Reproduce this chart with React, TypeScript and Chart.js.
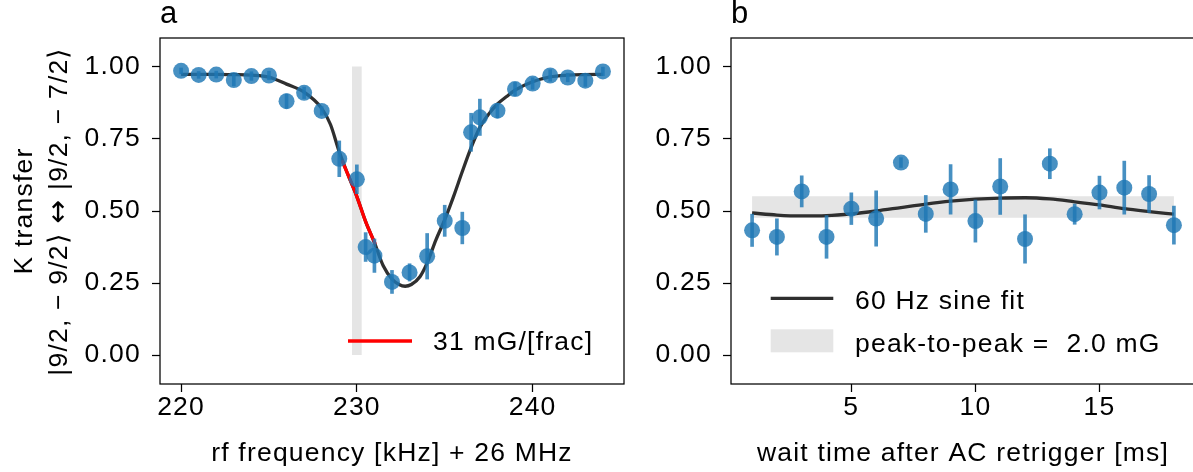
import React, { useEffect, useRef } from "react";
import { Chart, registerables } from "chart.js";

Chart.register(...registerables);

const FONT = "'Liberation Sans', Arial, Helvetica, sans-serif";
const ARROW_FONT = "'DejaVu Sans', sans-serif";
const FONT_SIZE = 26.5;
const LETTER_SPACING = "1.2px";
const BLUE = "rgba(31,119,180,0.82)";
const FIT_COLOR = "#2f2f2f";
const GRAY = "#e5e5e5";

// ---------- panel a: rf frequency scan ----------
const freqKHz = [220, 221, 222, 223, 224, 225, 226, 227, 228, 229, 230, 230.5, 231, 232, 233, 234, 235, 236, 236.5, 237, 238, 239, 240, 241, 242, 243, 244];
const freqTransfer = [0.986, 0.972, 0.973, 0.954, 0.968, 0.97, 0.881, 0.91, 0.847, 0.681, 0.61, 0.375, 0.345, 0.254, 0.287, 0.343, 0.466, 0.441, 0.773, 0.825, 0.848, 0.923, 0.942, 0.97, 0.963, 0.952, 0.984];
const freqErr = [0.01, 0.012, 0.012, 0.02, 0.015, 0.015, 0.025, 0.02, 0.015, 0.062, 0.05, 0.05, 0.058, 0.04, 0.03, 0.079, 0.054, 0.055, 0.066, 0.063, 0.025, 0.023, 0.02, 0.02, 0.015, 0.02, 0.015];

const fitKHz = [220, 221, 222, 223, 224, 225, 226, 227, 228, 228.5, 229, 229.5, 230, 230.5, 231, 231.5, 232, 232.4, 232.75, 233.1, 233.6, 234, 234.5, 235, 235.5, 236, 236.5, 237, 237.5, 238, 238.5, 239, 240, 241, 242, 243, 244];
const fitTransfer = [0.974, 0.974, 0.974, 0.973, 0.971, 0.964, 0.94, 0.912, 0.856, 0.8, 0.705, 0.625, 0.55, 0.463, 0.39, 0.31, 0.264, 0.245, 0.239, 0.245, 0.273, 0.32, 0.4, 0.47, 0.55, 0.637, 0.72, 0.79, 0.836, 0.871, 0.896, 0.919, 0.948, 0.965, 0.971, 0.973, 0.974];

const slopeKHz = [229.15, 229.5, 230, 230.5, 231.05];
const slopeTransfer = [0.676, 0.625, 0.55, 0.463, 0.385];

const markerKHz = [230];
const markerSpan = [0, 1];

const freqTicks = [220, 230, 240];
const transferTicks = [0, 0.25, 0.5, 0.75, 1.0];

const legendA = "31 mG/[frac]";
const xTitleA = "rf frequency [kHz] + 26 MHz";
const yTitleLine1 = "K transfer";
const yTitleLine2 = ["|9/2, \u2212 9/2\u27E9 ", "\u2194", " |9/2, \u2212 7/2\u27E9"];

// ---------- panel b: AC retrigger scan ----------
const waitMs = [1, 2, 3, 4, 5, 6, 7, 8, 9, 10, 11, 12, 13, 14, 15, 16, 17, 18];
const waitTransfer = [0.433, 0.41, 0.568, 0.41, 0.508, 0.474, 0.668, 0.49, 0.575, 0.465, 0.585, 0.403, 0.664, 0.489, 0.564, 0.581, 0.559, 0.451];
const waitErr = [0.056, 0.063, 0.054, 0.074, 0.055, 0.096, 0.017, 0.064, 0.086, 0.073, 0.097, 0.084, 0.052, 0.035, 0.057, 0.092, 0.064, 0.066];

const sineMs = [1, 2, 3, 4, 5, 6, 7, 8, 9, 10, 11, 12, 13, 14, 15, 16, 17, 18];
const sineTransfer = [0.493, 0.486, 0.483, 0.484, 0.49, 0.5, 0.512, 0.524, 0.534, 0.541, 0.545, 0.546, 0.542, 0.532, 0.521, 0.508, 0.498, 0.489];

const bandMs = [1, 18];
const bandLow = [0.477, 0.477];
const bandHigh = [0.551, 0.551];

const waitTicks = [5, 10, 15];
const legendB = ["60 Hz sine fit", "peak-to-peak =  2.0 mG"];
const xTitleB = "wait time after AC retrigger [ms]";

// ---------- helpers ----------
const tickGrid = {
  display: true,
  drawOnChartArea: false,
  drawTicks: true,
  tickLength: 8,
  tickWidth: 1.25,
  tickColor: "#000",
  offset: false,
};

function xScale(min: number, max: number, ticks: number[], title: string) {
  return {
    type: "linear",
    min,
    max,
    offset: false,
    afterBuildTicks: (s: any) => {
      s.ticks = ticks.map((v) => ({ value: v }));
    },
    afterFit: (s: any) => {
      s.height = 88;
    },
    grid: tickGrid,
    border: { display: false },
    ticks: {
      padding: 0,
      autoSkip: false,
      maxRotation: 0,
      minRotation: 0,
      color: "#000",
      font: { size: FONT_SIZE, family: FONT },
      callback: (v: any) => String(v),
    },
    title: {
      display: true,
      text: title,
      color: "#000",
      font: { size: FONT_SIZE, family: FONT },
      padding: { top: 0, bottom: 2 },
    },
  };
}

function yScale(width: number) {
  return {
    type: "linear",
    min: -0.1,
    max: 1.1,
    afterBuildTicks: (s: any) => {
      s.ticks = transferTicks.map((v) => ({ value: v }));
    },
    afterFit: (s: any) => {
      s.width = width;
    },
    grid: tickGrid,
    border: { display: false },
    ticks: {
      padding: 11,
      autoSkip: false,
      color: "#000",
      font: { size: FONT_SIZE, family: FONT },
      callback: (v: any) => Number(v).toFixed(2),
    },
  };
}

function decorPlugin(title: string, drawExtra: (ctx: CanvasRenderingContext2D, a: any) => void) {
  return {
    id: "decor",
    beforeDraw(chart: any) {
      chart.ctx.letterSpacing = LETTER_SPACING;
    },
    afterDatasetsDraw(chart: any) {
      const { ctx, chartArea: a } = chart;
      ctx.save();
      ctx.strokeStyle = "#000";
      ctx.lineWidth = 1.25;
      ctx.strokeRect(a.left, a.top, a.right - a.left, a.bottom - a.top);
      ctx.restore();
    },
    afterDraw(chart: any) {
      const { ctx, chartArea: a } = chart;
      ctx.save();
      ctx.fillStyle = "#000";
      ctx.textAlign = "left";
      ctx.textBaseline = "alphabetic";
      ctx.font = `31px ${FONT}`;
      ctx.fillText(title, a.left, 22.5);
      ctx.restore();
      ctx.save();
      drawExtra(ctx, a);
      ctx.restore();
    },
  };
}

function pointsOf(xs: number[], ys: number[]) {
  return xs.map((x, i) => ({ x, y: ys[i] }));
}

function errorsOf(xs: number[], ys: number[], es: number[]) {
  return xs.map((x, i) => ({ x, y: [ys[i] - es[i], ys[i] + es[i]] }));
}

function baseOptions(padRight: number, yWidth: number, xMin: number, xMax: number, xTicks: number[], xTitle: string) {
  return {
    responsive: false,
    maintainAspectRatio: false,
    animation: false,
    devicePixelRatio: 1,
    events: [],
    layout: { padding: { left: 0, top: 38, right: padRight, bottom: 0 } },
    plugins: {
      legend: { display: false },
      tooltip: { enabled: false },
      title: { display: false },
    },
    scales: {
      x: xScale(xMin, xMax, xTicks, xTitle),
      y: yScale(yWidth),
    },
  };
}

function configA(): any {
  return {
    type: "scatter",
    data: {
      datasets: [
        {
          type: "scatter",
          data: pointsOf(freqKHz, freqTransfer),
          backgroundColor: BLUE,
          borderWidth: 0,
          pointRadius: 8,
          pointHoverRadius: 8,
          order: 0,
        },
        {
          type: "bar",
          data: errorsOf(freqKHz, freqTransfer, freqErr),
          backgroundColor: BLUE,
          borderWidth: 0,
          barThickness: 3,
          grouped: false,
          order: 1,
        },
        {
          type: "line",
          data: pointsOf(slopeKHz, slopeTransfer),
          borderColor: "#ff0000",
          borderWidth: 3.3,
          pointRadius: 0,
          fill: false,
          cubicInterpolationMode: "monotone",
          order: 2,
        },
        {
          type: "line",
          data: pointsOf(fitKHz, fitTransfer),
          borderColor: FIT_COLOR,
          borderWidth: 3.3,
          pointRadius: 0,
          fill: false,
          cubicInterpolationMode: "monotone",
          order: 3,
        },
        {
          type: "bar",
          data: markerKHz.map((x) => ({ x, y: markerSpan })),
          backgroundColor: GRAY,
          borderWidth: 0,
          barThickness: 9,
          grouped: false,
          order: 4,
        },
      ],
    },
    options: baseOptions(36, 160, 218.8, 245.2, freqTicks, xTitleA),
    plugins: [
      decorPlugin("a", (ctx, a) => {
        // y axis title (two lines, rotated)
        ctx.fillStyle = "#000";
        ctx.textBaseline = "alphabetic";
        const cy = (a.top + a.bottom) / 2;
        const main = `${FONT_SIZE}px ${FONT}`;
        const arrow = `${FONT_SIZE + 2}px ${ARROW_FONT}`;
        ctx.font = main;
        ctx.textAlign = "center";
        ctx.save();
        ctx.translate(31.5, cy);
        ctx.rotate(-Math.PI / 2);
        ctx.fillText(yTitleLine1, 0, 0);
        ctx.restore();
        // second line drawn in pieces so the arrow uses a font with a full-size glyph
        const fonts = [main, arrow, main];
        const widths = yTitleLine2.map((t, i) => {
          ctx.font = fonts[i];
          return ctx.measureText(t).width;
        });
        const total = widths.reduce((s, w) => s + w, 0);
        ctx.save();
        ctx.translate(66.7, cy);
        ctx.rotate(-Math.PI / 2);
        ctx.textAlign = "left";
        let pos = -total / 2;
        yTitleLine2.forEach((t, i) => {
          ctx.font = fonts[i];
          ctx.fillText(t, pos, 0);
          pos += widths[i];
        });
        ctx.restore();
        // legend
        ctx.font = main;
        ctx.strokeStyle = "#ff0000";
        ctx.lineWidth = 3.3;
        ctx.beginPath();
        ctx.moveTo(a.left + 188, a.top + 303);
        ctx.lineTo(a.left + 252, a.top + 303);
        ctx.stroke();
        ctx.textAlign = "left";
        ctx.fillText(legendA, a.left + 273, a.top + 311.5);
      }),
    ],
  };
}

function configB(): any {
  return {
    type: "scatter",
    data: {
      datasets: [
        {
          type: "line",
          data: pointsOf(bandMs, bandHigh),
          borderColor: "rgba(0,0,0,0)",
          borderWidth: 0,
          pointRadius: 0,
          backgroundColor: GRAY,
          fill: "+1",
          order: 5,
        },
        {
          type: "line",
          data: pointsOf(bandMs, bandLow),
          borderColor: "rgba(0,0,0,0)",
          borderWidth: 0,
          pointRadius: 0,
          fill: false,
          order: 6,
        },
        {
          type: "scatter",
          data: pointsOf(waitMs, waitTransfer),
          backgroundColor: BLUE,
          borderWidth: 0,
          pointRadius: 8,
          pointHoverRadius: 8,
          order: 0,
        },
        {
          type: "bar",
          data: errorsOf(waitMs, waitTransfer, waitErr),
          backgroundColor: BLUE,
          borderWidth: 0,
          barThickness: 3,
          grouped: false,
          order: 1,
        },
        {
          type: "line",
          data: pointsOf(sineMs, sineTransfer),
          borderColor: FIT_COLOR,
          borderWidth: 3.3,
          pointRadius: 0,
          fill: false,
          cubicInterpolationMode: "monotone",
          order: 3,
        },
      ],
    },
    options: baseOptions(31, 105, 0.15, 18.85, waitTicks, xTitleB),
    plugins: [
      decorPlugin("b", (ctx, a) => {
        ctx.fillStyle = "#000";
        ctx.font = `${FONT_SIZE}px ${FONT}`;
        ctx.textAlign = "left";
        ctx.textBaseline = "alphabetic";
        ctx.strokeStyle = FIT_COLOR;
        ctx.lineWidth = 3.3;
        ctx.beginPath();
        ctx.moveTo(a.left + 39.7, a.top + 260.3);
        ctx.lineTo(a.left + 102.3, a.top + 260.3);
        ctx.stroke();
        ctx.fillText(legendB[0], a.left + 124, a.top + 271);
        ctx.fillStyle = GRAY;
        ctx.fillRect(a.left + 39.7, a.top + 291.3, 62.6, 23);
        ctx.fillStyle = "#000";
        ctx.fillText(legendB[1], a.left + 124, a.top + 313.5);
      }),
    ],
  };
}

export default function App() {
  const aRef = useRef<HTMLCanvasElement>(null);
  const bRef = useRef<HTMLCanvasElement>(null);

  useEffect(() => {
    Chart.defaults.font.family = FONT;
    Chart.defaults.font.size = FONT_SIZE;
    Chart.defaults.color = "#000";
    const ca = new Chart(aRef.current as HTMLCanvasElement, configA());
    const cb = new Chart(bRef.current as HTMLCanvasElement, configB());
    return () => {
      ca.destroy();
      cb.destroy();
    };
  }, []);

  return (
    <div
      style={{
        position: "absolute",
        left: 0,
        top: 0,
        width: 1193,
        height: 472,
        overflow: "hidden",
        background: "#fff",
      }}
    >
      <canvas
        ref={aRef}
        width={660}
        height={472}
        style={{ position: "absolute", left: 0, top: 0, width: 660, height: 472 }}
      />
      <canvas
        ref={bRef}
        width={600}
        height={472}
        style={{ position: "absolute", left: 626, top: 0, width: 600, height: 472 }}
      />
    </div>
  );
}
